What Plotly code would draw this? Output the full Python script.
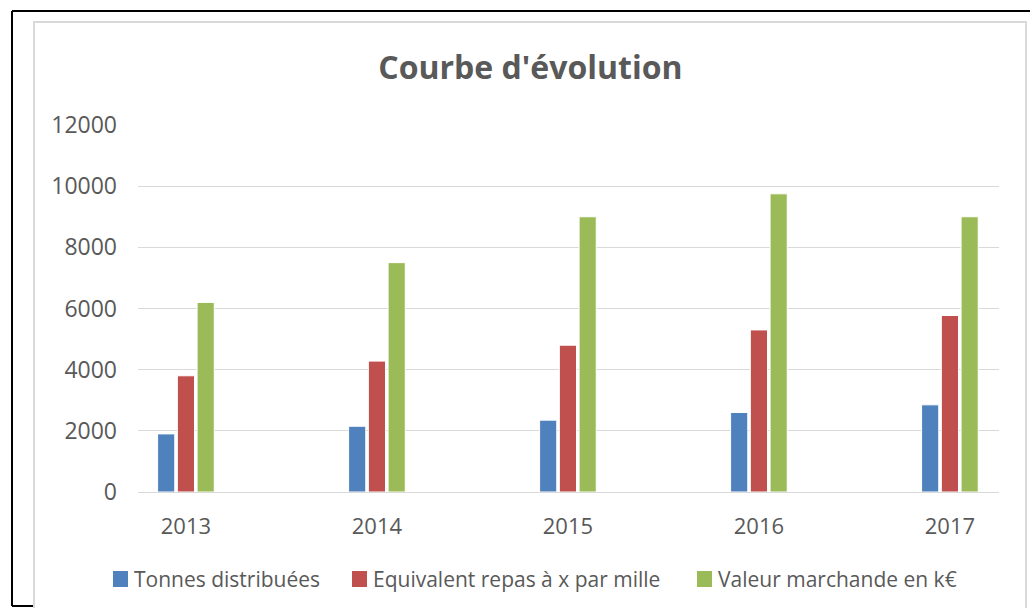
import plotly.graph_objects as go

years = ["2013", "2014", "2015", "2016", "2017"]
tonnes = [1900, 2150, 2350, 2600, 2850]
repas = [3800, 4280, 4800, 5300, 5770]
valeur = [6200, 7500, 9000, 9750, 9000]
series_names = ["Tonnes distribuées", "Equivalent repas à x par mille", "Valeur marchande en k€"]
y_ticks = [0, 2000, 4000, 6000, 8000, 10000, 12000]

colors = ["#4F81BD", "#C0504D", "#9BBB59"]
FONT = "Open Sans"
TXT = "#595959"
W, H = 1030, 608

fig = go.Figure()
for name, vals, col in zip(series_names, [tonnes, repas, valeur], colors):
    fig.add_trace(go.Bar(x=years, y=vals, name=name, showlegend=False,
                         marker=dict(color=col, line=dict(color="white", width=1))))

plot_left, plot_right = 138, 999
plot_top, plot_bottom = 125, 492

fig.update_layout(
    width=W, height=H,
    margin=dict(l=0, r=0, t=0, b=0, autoexpand=False),
    paper_bgcolor="white", plot_bgcolor="white",
    barmode="group", bargap=0.69, bargroupgap=0.13,
    title=dict(text="<b>Courbe d'évolution</b>", x=0.515, xanchor="center",
               y=1 - 68 / H, yanchor="middle",
               font=dict(family=FONT, size=32, color=TXT)),
    xaxis=dict(domain=[plot_left / W, plot_right / W], type="category", automargin=False,
               range=[-0.251, 4.257], showgrid=False, showline=False,
               ticks="", ticklabelstandoff=19,
               tickfont=dict(family=FONT, size=22, color=TXT)),
    yaxis=dict(domain=[1 - plot_bottom / H, 1 - plot_top / H], range=[0, 12000], automargin=False,
               tickvals=y_ticks, tickformat="d", showgrid=True, gridcolor="#D9D9D9", gridwidth=1,
               zeroline=True, zerolinecolor="#D9D9D9", zerolinewidth=1,
               showline=False, ticks="", ticklabelstandoff=20,
               tickfont=dict(family=FONT, size=23, color=TXT)),
    showlegend=False,
)

# legend drawn as coloured squares + labels (Excel style)
leg_sq_x = [113, 352, 697]
leg_y = 579
for name, col, sx in zip(series_names, colors, leg_sq_x):
    fig.add_shape(type="rect", xref="paper", yref="paper",
                  x0=sx / W, x1=(sx + 15) / W, y0=1 - (leg_y + 8) / H, y1=1 - (leg_y - 8) / H,
                  fillcolor=col, line=dict(width=0))
    fig.add_annotation(text=name, xref="paper", yref="paper", x=(sx + 19) / W, y=1 - leg_y / H,
                       xanchor="left", yanchor="middle", showarrow=False,
                       font=dict(family=FONT, size=21, color=TXT))

# outer frame (black) and inner chart border (grey)
fig.add_shape(type="line", xref="paper", yref="paper", x0=12 / W, x1=1, y0=1 - 11 / H, y1=1 - 11 / H,
              line=dict(color="black", width=2))
fig.add_shape(type="line", xref="paper", yref="paper", x0=12 / W, x1=12 / W, y0=1 - 11 / H, y1=1 - 606 / H,
              line=dict(color="black", width=2))
fig.add_shape(type="line", xref="paper", yref="paper", x0=12 / W, x1=34 / W, y0=1 - 606 / H, y1=1 - 606 / H,
              line=dict(color="black", width=2))
fig.add_shape(type="rect", xref="paper", yref="paper", x0=34 / W, x1=1026 / W, y0=1 - 22 / H, y1=-0.02,
              line=dict(color="#D9D9D9", width=2))

fig.write_html("out.html", config={"displayModeBar": False},
               post_script="document.body.style.margin='0';")
